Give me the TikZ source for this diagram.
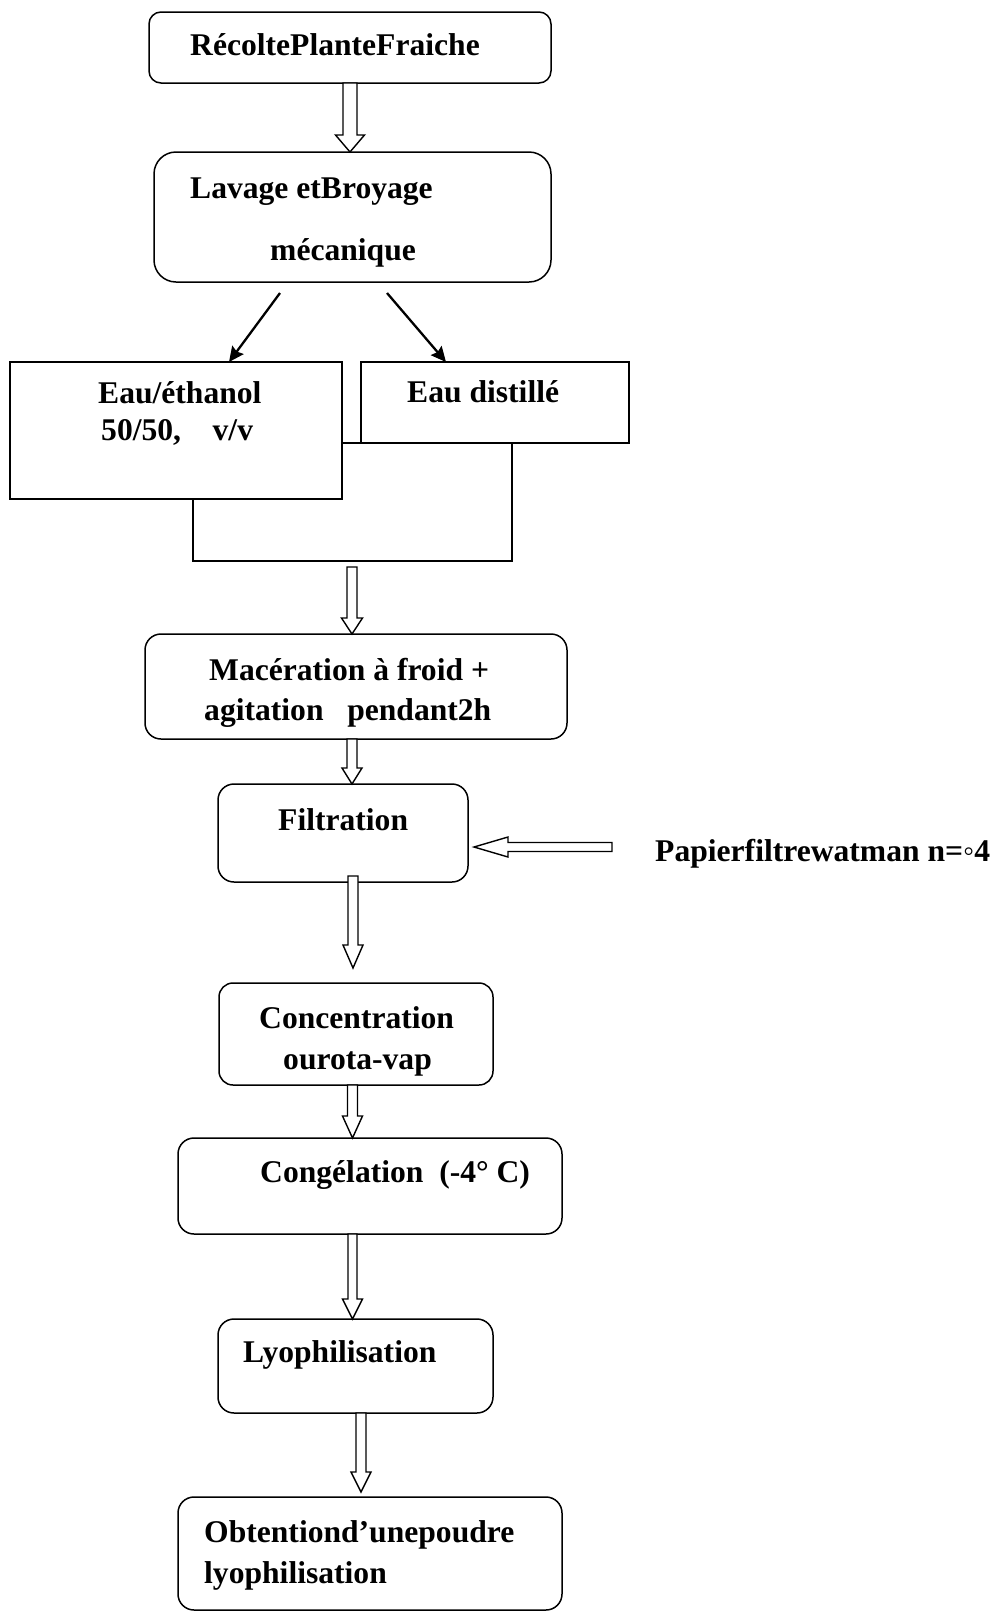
\documentclass[tikz,border=0pt]{standalone}
\usepackage{fontspec}
\setmainfont{Liberation Serif}
\usetikzlibrary{arrows.meta,calc}
\tikzset{
  boxr/.style={draw, fill=white, line width=1.5pt, inner sep=0pt, outer sep=0pt},
  boxs/.style={draw, fill=white, line width=1.8pt, inner sep=0pt, outer sep=0pt},
  harrow/.style={draw, fill=white, line width=1.4pt, line join=miter},
  thinarrow/.style={line width=2.3pt, -{Stealth[length=15pt,width=14pt,inset=2pt]}},
  txt/.style={font=\fontsize{31.6}{38}\selectfont\bfseries, inner sep=0pt, anchor=base west}
}
% hollow down arrow: start, end, x, shaft half, head half, head length
\newcommand\hdown[6]{%
  \draw[harrow] let \p1=(#1), \p2=(#2) in
    ({#3pt-#4pt},\y1) -- ({#3pt-#4pt},{\y2+#6pt}) -- ({#3pt-#5pt},{\y2+#6pt}) --
    (#3pt,\y2) -- ({#3pt+#5pt},{\y2+#6pt}) -- ({#3pt+#4pt},{\y2+#6pt}) --
    ({#3pt+#4pt},\y1) -- cycle;}
% hollow left arrow: start (tail), end (tip), shaft half, head half, head length
\newcommand\hleft[5]{%
  \draw[harrow] let \p1=(#1), \p2=(#2) in
    (\x1,{\y1+#3pt}) -- ({\x2+#5pt},{\y1+#3pt}) -- ({\x2+#5pt},{\y1+#4pt}) --
    (\x2,\y1) -- ({\x2+#5pt},{\y1-#4pt}) -- ({\x2+#5pt},{\y1-#3pt}) --
    (\x1,{\y1-#3pt}) -- cycle;}
\begin{document}
\begin{tikzpicture}[x=1pt,y=-1pt]
\useasboundingbox (0,0) rectangle (996,1612);
\fill[white] (0,0) rectangle (996,1612);

% boxes
\node[boxr, rounded corners=12pt, minimum width=402pt, minimum height=71pt] (rec) at (350,47.5) {};
\node[boxr, rounded corners=22pt, minimum width=397pt, minimum height=130pt] (lav) at (352.5,217) {};
\node[boxs, minimum width=319pt, minimum height=118pt] (merge) at (352.5,502) {};
\node[boxs, minimum width=332pt, minimum height=137pt] (eth) at (176,430.5) {};
\node[boxs, minimum width=268pt, minimum height=81pt] (dist) at (495,402.5) {};
\node[boxr, rounded corners=16pt, minimum width=422pt, minimum height=105pt] (mac) at (356,686.5) {};
\node[boxr, rounded corners=16pt, minimum width=250pt, minimum height=98pt] (filt) at (343,833) {};
\node[boxr, rounded corners=14pt, minimum width=274pt, minimum height=102pt] (conc) at (356,1034) {};
\node[boxr, rounded corners=16pt, minimum width=384pt, minimum height=96pt] (cong) at (370,1186) {};
\node[boxr, rounded corners=16pt, minimum width=275pt, minimum height=94pt] (lyo) at (355.5,1366) {};
\node[boxr, rounded corners=16pt, minimum width=384pt, minimum height=113pt] (obt) at (370,1553.5) {};

% texts
\node[txt] (t1) at (190,55) {RécoltePlanteFraiche};
\node[txt] (t2) at (190,198) {Lavage etBroyage};
\node[txt] (t3) at (270,260) {mécanique};
\node[txt] (t4) at (98,403) {Eau/éthanol};
\node[txt] (t5) at (101,440) {50/50,~~~~v/v};
\node[txt] (t6) at (407,402) {Eau distillé};
\node[txt] (t7) at (209,680) {Macération à froid +};
\node[txt] (t8) at (204,720) {agitation~~~pendant2h};
\node[txt] (t9) at (278,830) {Filtration};
\node[txt] (t10) at (655,861) {Papierfiltrewatman n=◦4};
\node[txt] (t11) at (259,1028) {Concentration};
\node[txt] (t12) at (283,1069) {ourota-vap};
\node[txt] (t13) at (260,1182) {Congélation~~(-4° C)};
\node[txt] (t14) at (243,1362) {Lyophilisation};
\node[txt] (t15) at (204,1542) {Obtentiond’unepoudre};
\node[txt] (t16) at (204,1583) {lyophilisation};

% thin arrows
\coordinate (d1s) at ($(lav.south)+(-72.5,11)$);
\coordinate (d2s) at ($(lav.south)+(34.5,11)$);
\draw[thinarrow] (d1s) -- ($(eth.north west)+(219,0)$);
\draw[thinarrow] (d2s) -- ($(dist.north west)+(85,0)$);

% hollow arrows
\hdown{rec.south}{lav.north}{350}{7}{14.5}{17}
\hdown{$(merge.south)+(0,6)$}{mac.north}{352}{5}{10.5}{16}
\hdown{mac.south}{filt.north}{352}{5}{10}{16}
\hdown{$(filt.south)+(0,-6)$}{$(conc.north)+(0,-15)$}{353}{5}{10}{23}
\hdown{conc.south}{cong.north}{352.5}{5}{10}{22}
\hdown{cong.south}{lyo.north}{352.5}{4.5}{10}{20}
\hdown{lyo.south}{$(obt.north)+(0,-5)$}{361}{5}{10}{20}
\coordinate (ptail) at (612,847);
\hleft{ptail}{$(filt.east)+(6,14)$}{4.5}{10}{34}
\end{tikzpicture}
\end{document}
